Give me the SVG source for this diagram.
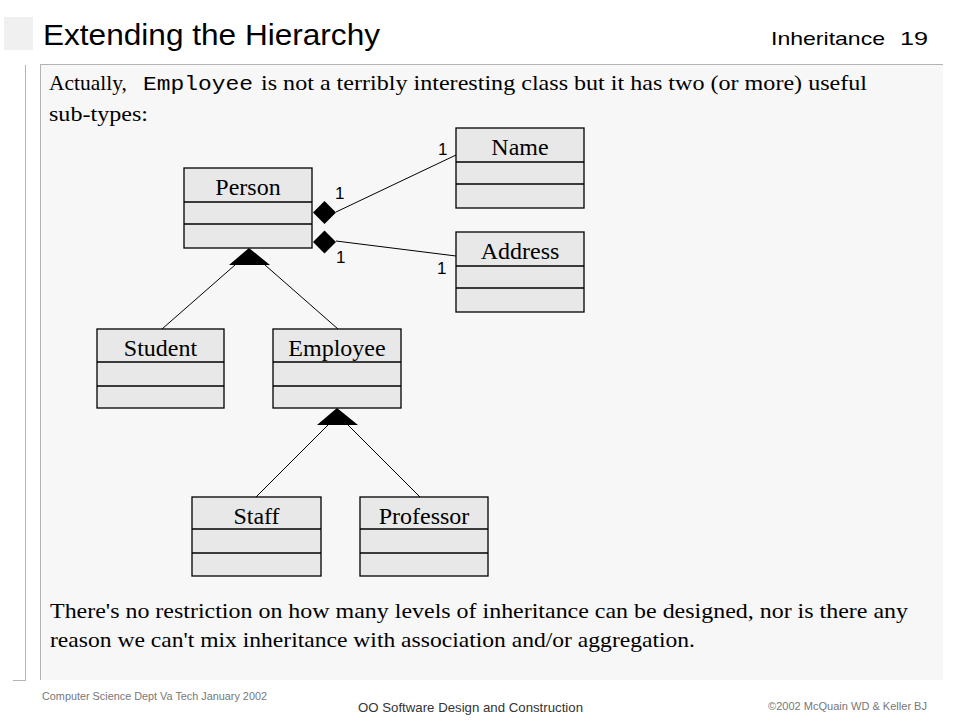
<svg xmlns="http://www.w3.org/2000/svg" width="960" height="720" viewBox="0 0 960 720">
<style>
.cls rect{fill:#e8e8e8;stroke:#000;stroke-width:1.3}
.cls line{stroke:#000;stroke-width:1.3}
.cname{font-family:"Liberation Serif","Times New Roman",serif;font-size:24px;fill:#000;text-anchor:middle}
.conn line{stroke:#000;stroke-width:1}
.mult{font-family:"Liberation Sans",Arial,sans-serif;font-size:17px;fill:#000}
.body{font-family:"Liberation Serif","Times New Roman",serif;font-size:21px;fill:#000}
.mono{font-family:"Liberation Mono","Courier New",monospace;font-size:20px;fill:#000}
.foot{font-family:"Liberation Sans",Arial,sans-serif;fill:#777}
</style>
<rect x="0" y="0" width="960" height="720" fill="#ffffff"/>
<!-- title decoration -->
<rect x="4" y="17" width="29" height="33" fill="#f0f0f0"/>
<text x="43" y="45" font-family="Liberation Sans,Arial,sans-serif" font-size="30" fill="#000" textLength="337" lengthAdjust="spacingAndGlyphs">Extending the Hierarchy</text>
<text x="771" y="45" font-family="Liberation Sans,Arial,sans-serif" font-size="19" fill="#000" textLength="114" lengthAdjust="spacingAndGlyphs">Inheritance</text>
<text x="900" y="45" font-family="Liberation Sans,Arial,sans-serif" font-size="19" fill="#000" textLength="28" lengthAdjust="spacingAndGlyphs">19</text>
<!-- content panel -->
<rect x="40" y="64" width="903" height="616" fill="#f7f7f7"/>
<line x1="40" y1="64.5" x2="943" y2="64.5" stroke="#b4b4b4" stroke-width="1"/>
<line x1="40.5" y1="64" x2="40.5" y2="680" stroke="#b4b4b4" stroke-width="1"/>
<line x1="25.5" y1="65" x2="25.5" y2="680" stroke="#b4b4b4" stroke-width="1"/>
<line x1="13" y1="680.5" x2="26" y2="680.5" stroke="#b4b4b4" stroke-width="1"/>
<!-- body text -->
<text class="body" x="49" y="90" textLength="78" lengthAdjust="spacingAndGlyphs">Actually,</text>
<text class="mono" x="143" y="90" textLength="110" lengthAdjust="spacingAndGlyphs">Employee</text>
<text class="body" x="261" y="90" textLength="606" lengthAdjust="spacingAndGlyphs">is not a terribly interesting class but it has two (or more) useful</text>
<text class="body" x="49" y="121" textLength="99" lengthAdjust="spacingAndGlyphs">sub-types:</text>
<text class="body" x="50" y="618" textLength="858" lengthAdjust="spacingAndGlyphs">There's no restriction on how many levels of inheritance can be designed, nor is there any</text>
<text class="body" x="50" y="647" textLength="645" lengthAdjust="spacingAndGlyphs">reason we can't mix inheritance with association and/or aggregation.</text>
<!-- connectors -->
<g id="connectors" class="conn">
<line x1="235" y1="265" x2="162" y2="329"/>
<line x1="265" y1="265" x2="338" y2="329"/>
<line x1="328" y1="425" x2="256" y2="497"/>
<line x1="348" y1="425" x2="420" y2="497"/>
<line x1="336" y1="212" x2="456" y2="155"/>
<line x1="336" y1="241" x2="456" y2="256"/>
<polygon points="249,248 270,265 229,265" fill="#000"/>
<polygon points="337,408 358,425 317,425" fill="#000"/>
<polygon points="313,212.5 324.5,201 336,212.5 324.5,224" fill="#000"/>
<polygon points="313,242 324.5,230.5 336,242 324.5,253.5" fill="#000"/>
<text class="mult" x="335" y="199">1</text>
<text class="mult" x="336" y="263">1</text>
<text class="mult" x="438" y="155">1</text>
<text class="mult" x="437" y="274">1</text>
</g>
<!-- class nodes -->
<g id="person" class="cls">
<rect x="184" y="168" width="128" height="80"/>
<line x1="184" y1="202" x2="312" y2="202"/>
<line x1="184" y1="224" x2="312" y2="224"/>
<text class="cname" x="248" y="195">Person</text>
</g>
<g id="name" class="cls">
<rect x="456" y="128" width="128" height="80"/>
<line x1="456" y1="162" x2="584" y2="162"/>
<line x1="456" y1="184" x2="584" y2="184"/>
<text class="cname" x="520" y="155">Name</text>
</g>
<g id="address" class="cls">
<rect x="456" y="232" width="128" height="80"/>
<line x1="456" y1="266" x2="584" y2="266"/>
<line x1="456" y1="288" x2="584" y2="288"/>
<text class="cname" x="520" y="259">Address</text>
</g>
<g id="student" class="cls">
<rect x="97" y="329" width="127" height="79"/>
<line x1="97" y1="362" x2="224" y2="362"/>
<line x1="97" y1="386" x2="224" y2="386"/>
<text class="cname" x="160.5" y="356">Student</text>
</g>
<g id="employee" class="cls">
<rect x="273" y="329" width="128" height="79"/>
<line x1="273" y1="362" x2="401" y2="362"/>
<line x1="273" y1="386" x2="401" y2="386"/>
<text class="cname" x="337" y="356">Employee</text>
</g>
<g id="staff" class="cls">
<rect x="192" y="497" width="129" height="79"/>
<line x1="192" y1="529" x2="321" y2="529"/>
<line x1="192" y1="553" x2="321" y2="553"/>
<text class="cname" x="256.5" y="524">Staff</text>
</g>
<g id="professor" class="cls">
<rect x="360" y="497" width="128" height="79"/>
<line x1="360" y1="529" x2="488" y2="529"/>
<line x1="360" y1="553" x2="488" y2="553"/>
<text class="cname" x="424" y="524">Professor</text>
</g>
<!-- footer -->
<text class="foot" x="42" y="700" font-size="11" textLength="225" lengthAdjust="spacingAndGlyphs">Computer Science Dept Va Tech January 2002</text>
<text class="foot" x="358" y="712" font-size="13" style="fill:#333" textLength="225" lengthAdjust="spacingAndGlyphs">OO Software Design and Construction</text>
<text class="foot" x="768" y="710" font-size="11" textLength="159" lengthAdjust="spacingAndGlyphs">©2002  McQuain WD &amp; Keller BJ</text>
</svg>
